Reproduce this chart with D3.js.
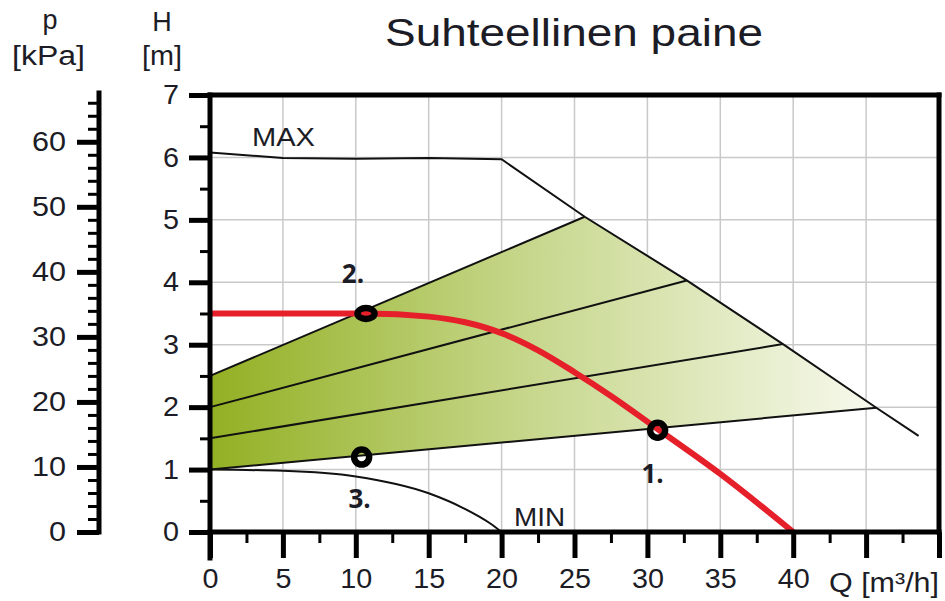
<!DOCTYPE html>
<html>
<head>
<meta charset="utf-8">
<script src="https://cdn.jsdelivr.net/npm/d3@7"></script>
<style>
  body { margin: 0; background: #fff; }
  svg text { font-family: "Liberation Sans", Arial, sans-serif; fill: #1c1c26; }
</style>
</head>
<body>
<div id="chart"></div>
<script>
// Pump curve chart: head H [m] / pressure p [kPa] vs flow Q [m3/h]

// MAX and MIN curves, [Q, H]
const maxCurve = [[0, 6.08], [5, 5.99], [10, 5.98], [15, 5.99], [20, 5.97], [25.7, 5.05], [32.7, 4.03], [39.3, 3.01], [45.7, 1.99], [48.6, 1.54]];
const minCurve = [[0, 1.0], [5, 0.98], [10, 0.89], [15, 0.62], [17.4, 0.38], [19.2, 0.14], [20, 0]];

// Relative pressure setting lines: start head at Q=0, end point on MAX curve
const settingStartH = [2.5, 2.0, 1.5, 1.0];
const settingEndQ = [25.7, 32.7, 39.3, 45.7];
const settingEndH = [5.05, 4.03, 3.01, 1.99];

// System curve (red)
const systemCurve = [[0, 3.5], [10.7, 3.5], [15, 3.45], [17.5, 3.36], [20, 3.185], [22.5, 2.91], [25, 2.56], [27.5, 2.18], [30.7, 1.65], [35, 0.93], [40, 0]];

// Operating points
const pointLabels = ["1.", "2.", "3."];
const pointQ = [30.7, 10.7, 10.4];
const pointH = [1.63, 3.5, 1.2];

// Ticks
const qTicks = [0, 5, 10, 15, 20, 25, 30, 35, 40];
const hTicks = [0, 1, 2, 3, 4, 5, 6, 7];
const pTicks = [0, 10, 20, 30, 40, 50, 60];

const width = 945, height = 601;
const svg = d3.select("#chart").append("svg")
    .attr("width", width)
    .attr("height", height);

const x = d3.scaleLinear().domain([0, 50]).range([210, 939]);
const y = d3.scaleLinear().domain([0, 7]).range([532, 95]);
const p = d3.scaleLinear().domain([0, 67.5]).range([532, 93]);

// Grid
const grid = svg.append("g").attr("stroke", "#c9c9c9").attr("stroke-width", 1.5);
grid.selectAll(".vg").data(d3.range(5, 50, 5)).enter().append("line")
    .attr("x1", d => x(d)).attr("x2", d => x(d))
    .attr("y1", y(0)).attr("y2", y(7));
grid.selectAll(".hg").data(d3.range(1, 7)).enter().append("line")
    .attr("x1", x(0)).attr("x2", x(50))
    .attr("y1", d => y(d)).attr("y2", d => y(d));

// Green gradient area
const defs = svg.append("defs");
const grad = defs.append("linearGradient")
    .attr("id", "greenGrad")
    .attr("gradientUnits", "userSpaceOnUse")
    .attr("x1", x(0)).attr("x2", x(47)).attr("y1", 0).attr("y2", 0);
grad.append("stop").attr("offset", "0").attr("stop-color", "#93b023");
grad.append("stop").attr("offset", "0.45").attr("stop-color", "#c5d689");
grad.append("stop").attr("offset", "1").attr("stop-color", "#fafbf3");

const topIdx = 0, botIdx = settingStartH.length - 1;
const areaPts = [[0, settingStartH[topIdx]], [settingEndQ[topIdx], settingEndH[topIdx]]]
    .concat(maxCurve.filter(d => d[0] > settingEndQ[topIdx] && d[0] < settingEndQ[botIdx]))
    .concat([[settingEndQ[botIdx], settingEndH[botIdx]], [0, settingStartH[botIdx]]]);

svg.append("path")
    .attr("d", d3.line().x(d => x(d[0])).y(d => y(d[1]))(areaPts) + "Z")
    .attr("fill", "url(#greenGrad)");

// Setting lines
svg.selectAll(".setting").data(settingStartH).enter().append("line")
    .attr("x1", x(0)).attr("y1", d => y(d))
    .attr("x2", (d, i) => x(settingEndQ[i])).attr("y2", (d, i) => y(settingEndH[i]))
    .attr("stroke", "#111").attr("stroke-width", 2);

// MAX / MIN curves
svg.append("path").attr("d", d3.line().x(d => x(d[0])).y(d => y(d[1]))(maxCurve))
    .attr("fill", "none").attr("stroke", "#111").attr("stroke-width", 2);
svg.append("path").attr("d", d3.line().x(d => x(d[0])).y(d => y(d[1])).curve(d3.curveMonotoneX)(minCurve))
    .attr("fill", "none").attr("stroke", "#111").attr("stroke-width", 2);

// System curve
svg.append("path")
    .attr("d", d3.line().x(d => x(d[0])).y(d => y(d[1])).curve(d3.curveMonotoneX)(systemCurve))
    .attr("fill", "none").attr("stroke", "#e6202a").attr("stroke-width", 6);

// Operating points
svg.selectAll(".pt").data(pointQ).enter().append("ellipse")
    .attr("cx", d => x(d)).attr("cy", (d, i) => y(pointH[i]))
    .attr("rx", (d, i) => i === 1 ? 8.5 : 7.5).attr("ry", (d, i) => i === 1 ? 5.5 : 7.5)
    .attr("fill", "none").attr("stroke", "#000").attr("stroke-width", 6.5);

const labelOffsets = [[-5, 53], [-13, -31], [-2, 51]];
svg.selectAll(".ptlabel").data(pointLabels).enter().append("text")
    .attr("x", (d, i) => x(pointQ[i]) + labelOffsets[i][0])
    .attr("y", (d, i) => y(pointH[i]) + labelOffsets[i][1])
    .attr("text-anchor", "middle")
    .style("font-family", "'Open Sans', sans-serif")
    .style("font-weight", "bold")
    .style("font-size", "26px")
    .text(d => d);

svg.append("text").attr("x", 252).attr("y", 146).style("font-size", "25px")
    .attr("textLength", 63).attr("lengthAdjust", "spacingAndGlyphs").text("MAX");
svg.append("text").attr("x", 514).attr("y", 526).style("font-size", "25px")
    .attr("textLength", 51).attr("lengthAdjust", "spacingAndGlyphs").text("MIN");

// Axes
function styleAxis(g, w, digitW) {
    g.select(".domain").remove();
    g.selectAll(".tick line").attr("stroke", "#000").attr("stroke-width", w);
    g.selectAll("text")
        .style("font-size", "27px")
        .style("font-family", "'Liberation Sans', Arial, sans-serif")
        .attr("fill", "#222")
        .filter(function () { return this.textContent.length > 0; })
        .attr("textLength", function () { return this.textContent.length * digitW; })
        .attr("lengthAdjust", "spacingAndGlyphs");
}

// H axis
svg.append("g").attr("transform", `translate(${x(0)},0)`)
    .call(d3.axisLeft(y).tickValues(d3.range(0.5, 7, 1)).tickSize(10).tickFormat(""))
    .call(g => styleAxis(g, 3, 16));
svg.append("g").attr("transform", `translate(${x(0)},0)`)
    .call(d3.axisLeft(y).tickValues(hTicks).tickSize(21).tickPadding(10).tickFormat(d3.format("d")))
    .call(g => styleAxis(g, 5, 16));

// Q axis
svg.append("g").attr("transform", `translate(0,${y(0)})`)
    .call(d3.axisBottom(x).tickValues(d3.range(2.5, 50, 5)).tickSize(11).tickFormat(""))
    .call(g => styleAxis(g, 3, 16));
svg.append("g").attr("transform", `translate(0,${y(0)})`)
    .call(d3.axisBottom(x).tickValues(qTicks.concat([45, 50])).tickSize(26).tickPadding(11)
        .tickFormat(d => qTicks.includes(d) ? d : ""))
    .call(g => styleAxis(g, 5, 16));

// p axis
const pAxisX = 99;
svg.append("g").attr("transform", `translate(${pAxisX},0)`)
    .call(d3.axisLeft(p).tickValues(d3.range(2, 67, 2).filter(d => d % 10 !== 0)).tickSize(11).tickFormat(""))
    .call(g => styleAxis(g, 3, 17));
svg.append("g").attr("transform", `translate(${pAxisX},0)`)
    .call(d3.axisLeft(p).tickValues(pTicks).tickSize(22).tickPadding(11).tickFormat(d3.format("d")))
    .call(g => styleAxis(g, 5, 17));

// Frame lines
const frame = svg.append("g").attr("stroke", "#000").attr("stroke-linecap", "square");
frame.append("line").attr("x1", pAxisX).attr("x2", pAxisX).attr("y1", p(67.5)).attr("y2", p(0)).attr("stroke-width", 5);
frame.append("line").attr("x1", x(0)).attr("x2", x(0)).attr("y1", y(7)).attr("y2", y(0) + 26).attr("stroke-width", 5);
frame.append("line").attr("x1", x(0)).attr("x2", x(50)).attr("y1", y(0)).attr("y2", y(0)).attr("stroke-width", 5);
frame.append("line").attr("x1", x(0)).attr("x2", x(50)).attr("y1", y(7)).attr("y2", y(7)).attr("stroke-width", 5);
frame.append("line").attr("x1", x(50)).attr("x2", x(50)).attr("y1", y(7)).attr("y2", y(0)).attr("stroke-width", 5);

// Titles and units
svg.append("text").attr("x", 385).attr("y", 46)
    .style("font-size", "39px").attr("textLength", 378).attr("lengthAdjust", "spacingAndGlyphs")
    .text("Suhteellinen paine");
svg.append("text").attr("x", 50).attr("y", 29).attr("text-anchor", "middle").style("font-size", "27px").text("p");
svg.append("text").attr("x", 12).attr("y", 65).style("font-size", "27px")
    .attr("textLength", 73).attr("lengthAdjust", "spacingAndGlyphs").text("[kPa]");
svg.append("text").attr("x", 162).attr("y", 31).attr("text-anchor", "middle").style("font-size", "27px").text("H");
svg.append("text").attr("x", 142).attr("y", 65).style("font-size", "27px")
    .attr("textLength", 40).attr("lengthAdjust", "spacingAndGlyphs").text("[m]");
svg.append("text").attr("x", 829).attr("y", 592).style("font-size", "27px")
    .attr("textLength", 110).attr("lengthAdjust", "spacingAndGlyphs").text("Q [m³/h]");
</script>
</body>
</html>
